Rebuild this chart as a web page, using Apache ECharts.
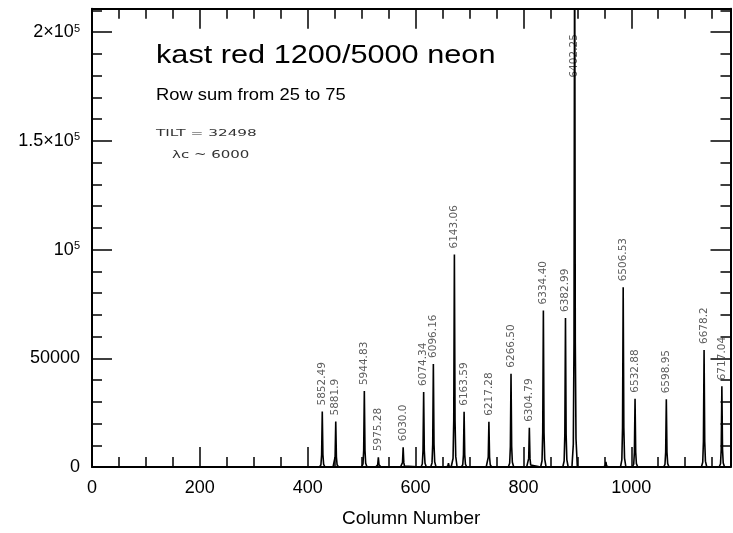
<!DOCTYPE html>
<html>
<head>
<meta charset="utf-8">
<script src="https://cdn.jsdelivr.net/npm/echarts@6/dist/echarts.min.js"></script>
<style>
html, body { margin: 0; padding: 0; background: #fff; }
#main { width: 733px; height: 533px; }
</style>
</head>
<body>
<div id="main"></div>
<script>
// neon arc lines: column, peak counts, hand-written wavelength ('' = no label)
var peakColumns = [427, 452, 505, 531, 577, 615, 633, 661, 672, 690, 736, 777, 811, 837, 878, 895, 953, 985, 1007, 1065, 1135, 1168];
var peakCounts  = [25500, 20900, 34900, 4500, 9100, 34500, 47400, 1800, 97700, 25400, 20800, 42900, 18000, 72000, 68500, 260000, 2300, 82600, 31400, 31100, 53800, 37100];
var peakLambdas = ['5852.49', '5881.9', '5944.83', '5975.28', '6030.0', '6074.34', '6096.16', '', '6143.06', '6163.59', '6217.28', '6266.50', '6304.79', '6334.40', '6382.99', '6402.25', '', '6506.53', '6532.88', '6598.95', '6678.2', '6717.04'];

var xMin = 0, xMax = 1184;
var yMin = 0, yMax = 210700;
var yTickValues = [0, 50000, 100000, 150000, 200000];
var yTickLabels = ['0', '50000', '10^5', '1.5×10^5', '2×10^5'];

// line profile of one arc line, relative to its peak (column offset, fraction of peak)
var peakShape = [[-5, 0], [-2.5, 0.04], [-1.2, 0.22], [0, 1], [1.2, 0.22], [2.5, 0.05], [5, 0]];

var spectrum = [[xMin, 0]];
peakColumns.forEach(function (c, i) {
    peakShape.forEach(function (p) {
        spectrum.push([c + p[0], peakCounts[i] * p[1]]);
    });
});
spectrum.push([xMax, 0]);

var labelPoints = [];
peakColumns.forEach(function (c, i) {
    if (!peakLambdas[i]) return;
    if (peakCounts[i] > yMax) {
        // saturated line: note written beside it near the top
        labelPoints.push({ value: [c, 180000], name: peakLambdas[i], label: { offset: [-8, 0] } });
    } else {
        labelPoints.push({ value: [c, peakCounts[i]], name: peakLambdas[i] });
    }
});

var font = 'Liberation Sans, Arial, Helvetica, sans-serif';

function xAxisDef(pos, interval, len, main) {
    return {
        type: 'value', position: pos, min: xMin, max: xMax, interval: interval,
        axisLine: { show: main, onZero: false, lineStyle: { color: '#000', width: 2 } },
        axisTick: { inside: true, length: len, lineStyle: { color: '#000', width: 1.5 } },
        axisLabel: { show: main && pos === 'bottom', showMaxLabel: false, margin: 12,
            fontSize: 18, fontFamily: font, color: '#000',
            formatter: function (v) { return String(v); } },
        splitLine: { show: false },
        name: main && pos === 'bottom' ? 'Column Number' : '',
        nameLocation: 'middle', nameGap: 42,
        nameTextStyle: { fontSize: 19, fontFamily: font, color: '#000' }
    };
}

function yAxisDef(pos, interval, len, main) {
    return {
        type: 'value', position: pos, min: yMin, max: yMax, interval: interval,
        axisLine: { show: main, onZero: false, lineStyle: { color: '#000', width: 2 } },
        axisTick: { inside: true, length: len, lineStyle: { color: '#000', width: 1.5 } },
        axisLabel: {
            show: main && pos === 'left', showMaxLabel: false, margin: 12,
            fontSize: 18, fontFamily: font, color: '#000',
            formatter: function (v) {
                var k = yTickValues.indexOf(v);
                if (k < 0) return '';
                var parts = yTickLabels[k].split('^');
                return parts.length > 1 ? parts[0] + '{s|' + parts[1] + '}' : parts[0];
            },
            rich: { s: { fontSize: 11, fontFamily: font, color: '#000', verticalAlign: 'top', lineHeight: 11 } }
        },
        splitLine: { show: false }
    };
}

var myChart = echarts.init(document.getElementById('main'));
option = {
    backgroundColor: '#fff',
    animation: false,
    grid: { left: 92, right: 2.5, top: 8.8, bottom: 61.3, containLabel: false },
    xAxis: [
        xAxisDef('bottom', 200, 20, true),
        xAxisDef('bottom', 50, 10, false),
        xAxisDef('top', 200, 20, true),
        xAxisDef('top', 50, 10, false)
    ],
    yAxis: [
        yAxisDef('left', 50000, 20, true),
        yAxisDef('left', 10000, 10, false),
        yAxisDef('right', 50000, 20, true),
        yAxisDef('right', 10000, 10, false)
    ],
    graphic: [
        { type: 'text', x: 156, y: 56, scaleX: 1.18, style: { text: 'kast red 1200/5000 neon', x: 0, y: 0,
            font: '26px ' + font, fill: '#000', verticalAlign: 'middle' } },
        { type: 'text', x: 156, y: 95.5, scaleX: 1.08, style: { text: 'Row sum from 25 to 75', x: 0, y: 0,
            font: '17px ' + font, fill: '#000', verticalAlign: 'middle' } },
        { type: 'text', x: 156, y: 133.5, scaleX: 1.7, style: { text: 'TILT = 32498', x: 0, y: 0,
            font: '9px DejaVu Sans', fill: '#333', verticalAlign: 'middle' } },
        { type: 'text', x: 172, y: 155, scaleX: 1.5, style: { text: 'λc ~ 6000', x: 0, y: 0,
            font: '10px DejaVu Sans', fill: '#333', verticalAlign: 'middle' } }
    ],
    series: [{
        type: 'line',
        xAxisIndex: 0,
        yAxisIndex: 0,
        data: spectrum,
        showSymbol: false,
        clip: true,
        lineStyle: { color: '#000', width: 1.6 }
    }, {
        type: 'scatter',
        xAxisIndex: 0,
        yAxisIndex: 0,
        data: labelPoints,
        symbolSize: 0,
        silent: true,
        label: {
            show: true, position: 'top', distance: 6, rotate: 90,
            align: 'left', verticalAlign: 'middle',
            formatter: '{b}',
            fontFamily: 'DejaVu Sans', fontSize: 10.5, color: '#333'
        }
    }]
};

myChart.setOption(option);
window.onresize = myChart.resize;
</script>
</body>
</html>
